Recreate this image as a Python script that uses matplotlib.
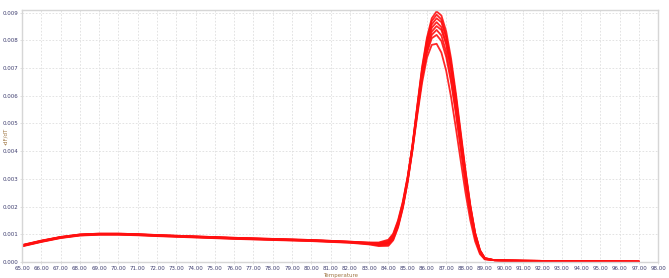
"""Melt curve derivative plot (-dF/dT vs temperature)."""

import matplotlib

matplotlib.use("Agg")
import matplotlib.pyplot as plt
import numpy as np

# temperatures (deg C) at which the curves were read
TEMPS = [65, 66, 67, 68, 69, 70, 71, 72, 74, 76, 78, 80, 81, 82, 83, 83.5,
         84, 84.25, 84.5, 84.75, 85, 85.25, 85.5, 85.75, 86, 86.25, 86.5,
         86.75, 87, 87.25, 87.5, 87.75, 88, 88.25, 88.5, 88.75, 89,
         89.5, 90, 91, 93, 95, 97]

# -dF/dT values, in units of 1e-3
CURVE_A = [0.60, 0.76, 0.89, 0.98, 1.01, 1.01, 0.99, 0.96, 0.91, 0.86, 0.82, 0.78, 0.75, 0.72, 0.68, 0.66,
           0.72, 0.92, 1.38, 2.08, 3.02, 4.22, 5.65, 7.05, 8.10, 8.80, 9.05,
           8.90, 8.32, 7.35, 6.10, 4.70, 3.30, 2.05, 1.05, 0.42, 0.14,
           0.06, 0.05, 0.04, 0.03, 0.02, 0.01]
CURVE_B = [0.58, 0.74, 0.88, 0.97, 1.00, 1.00, 0.98, 0.95, 0.90, 0.85, 0.81, 0.77, 0.74, 0.71, 0.66, 0.63,
           0.68, 0.88, 1.34, 2.04, 2.98, 4.18, 5.60, 6.98, 8.02, 8.70, 8.93,
           8.76, 8.16, 7.18, 5.92, 4.52, 3.14, 1.92, 0.96, 0.38, 0.12,
           0.06, 0.05, 0.04, 0.03, 0.02, 0.01]
CURVE_C = [0.61, 0.77, 0.90, 0.99, 1.02, 1.02, 1.00, 0.97, 0.92, 0.87, 0.83, 0.79, 0.76, 0.73, 0.69, 0.68,
           0.76, 0.98, 1.45, 2.14, 3.06, 4.22, 5.58, 6.90, 7.92, 8.58, 8.80,
           8.66, 8.10, 7.16, 5.96, 4.60, 3.24, 2.02, 1.04, 0.42, 0.14,
           0.06, 0.05, 0.04, 0.03, 0.02, 0.01]
CURVE_D = [0.57, 0.73, 0.87, 0.96, 0.99, 0.99, 0.97, 0.94, 0.89, 0.84, 0.80, 0.76, 0.73, 0.70, 0.65, 0.60,
           0.62, 0.82, 1.28, 1.98, 2.92, 4.10, 5.48, 6.82, 7.84, 8.46, 8.66,
           8.48, 7.90, 6.94, 5.72, 4.38, 3.04, 1.86, 0.94, 0.36, 0.11,
           0.06, 0.05, 0.04, 0.03, 0.02, 0.01]
CURVE_E = [0.59, 0.75, 0.89, 0.98, 1.01, 1.01, 0.99, 0.96, 0.91, 0.86, 0.82, 0.78, 0.75, 0.72, 0.67, 0.64,
           0.70, 0.91, 1.38, 2.07, 2.99, 4.14, 5.46, 6.74, 7.72, 8.32, 8.52,
           8.38, 7.86, 6.96, 5.80, 4.50, 3.18, 1.98, 1.02, 0.41, 0.13,
           0.06, 0.05, 0.04, 0.03, 0.02, 0.01]
CURVE_F = [0.56, 0.72, 0.86, 0.95, 0.98, 0.98, 0.96, 0.93, 0.88, 0.83, 0.79, 0.75, 0.72, 0.69, 0.63, 0.57,
           0.58, 0.78, 1.24, 1.94, 2.88, 4.04, 5.38, 6.66, 7.62, 8.20, 8.38,
           8.18, 7.58, 6.62, 5.42, 4.12, 2.84, 1.72, 0.86, 0.33, 0.10,
           0.06, 0.05, 0.04, 0.03, 0.02, 0.01]
CURVE_G = [0.60, 0.76, 0.90, 0.99, 1.02, 1.02, 1.00, 0.97, 0.92, 0.87, 0.83, 0.79, 0.76, 0.73, 0.70, 0.70,
           0.80, 1.02, 1.50, 2.18, 3.08, 4.18, 5.44, 6.64, 7.56, 8.08, 8.20,
           7.98, 7.40, 6.50, 5.38, 4.14, 2.90, 1.80, 0.92, 0.36, 0.11,
           0.06, 0.05, 0.04, 0.03, 0.02, 0.01]
CURVE_H = [0.58, 0.74, 0.88, 0.97, 1.00, 1.00, 0.98, 0.95, 0.90, 0.85, 0.81, 0.77, 0.74, 0.71, 0.66, 0.61,
           0.66, 0.86, 1.32, 2.02, 2.94, 4.06, 5.30, 6.48, 7.38, 7.84, 7.88,
           7.56, 6.90, 5.96, 4.84, 3.66, 2.50, 1.50, 0.74, 0.28, 0.09,
           0.06, 0.05, 0.04, 0.03, 0.02, 0.01]

CURVES = [CURVE_A, CURVE_B, CURVE_C, CURVE_D, CURVE_E, CURVE_F, CURVE_G, CURVE_H]

X_TICKS = list(range(65, 99))
Y_TICKS = [0.000, 0.001, 0.002, 0.003, 0.004, 0.005, 0.006, 0.007, 0.008, 0.009]

TICK_COLOR = "#3c3c6e"
LABEL_COLOR = "#a07845"
FRAME_COLOR = "#d6d6d6"


def main() -> None:
    fig = plt.figure(figsize=(6.69, 2.78), dpi=100)
    ax = fig.add_axes([0.033, 0.058, 0.951, 0.906])

    for curve in CURVES:
        ax.plot(TEMPS, np.array(curve) / 1000.0, color="#ff1010", lw=1.3,
                solid_capstyle="round", alpha=0.9)

    ax.set_xlim(65, 98)
    ax.set_ylim(0, 0.0091)
    ax.set_xticks(X_TICKS)
    ax.set_xticklabels([f"{t:.2f}" for t in X_TICKS])
    ax.set_yticks(Y_TICKS)
    ax.set_yticklabels([f"{v:.3f}" for v in Y_TICKS])
    ax.tick_params(labelsize=4, colors=TICK_COLOR, length=1.5, width=0.5,
                   pad=1.5)
    ax.tick_params(axis="both", color=FRAME_COLOR)

    ax.grid(True, color="#dedede", linestyle=(0, (2, 2)), linewidth=0.6)
    ax.set_axisbelow(True)
    for spine in ax.spines.values():
        spine.set_color(FRAME_COLOR)
        spine.set_linewidth(1.0)

    ax.set_xlabel("Temperature", fontsize=4, color=LABEL_COLOR, labelpad=1.5)
    fig.text(0.009, 0.51, "-dF/dT", fontsize=4, color=LABEL_COLOR,
             rotation=90, ha="center", va="center")

    fig.savefig("out.png", dpi=100)
    plt.close("all")


if __name__ == "__main__":
    main()
